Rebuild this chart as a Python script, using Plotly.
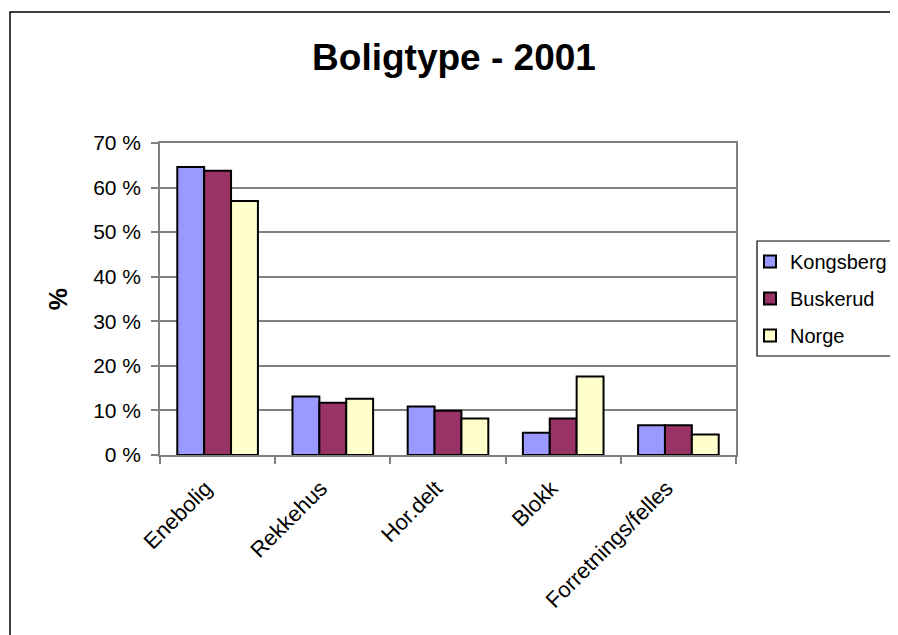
import plotly.graph_objects as go

categories = ["Enebolig", "Rekkehus", "Hor.delt", "Blokk", "Forretnings/felles"]
kongsberg = [64.6, 13.1, 10.9, 5.0, 6.7]
buskerud = [63.8, 11.7, 9.9, 8.2, 6.7]
norge = [57.0, 12.6, 8.2, 17.6, 4.6]
series_names = ["Kongsberg", "Buskerud", "Norge"]
colors = ["#9999FF", "#993366", "#FFFFCC"]
y_ticks = [0, 10, 20, 30, 40, 50, 60, 70]
y_tick_labels = [f"{v} %" for v in y_ticks]

W, H = 898, 635
OFF = 8  # page body margin
L, R, T, B = 160 - OFF, 736 - OFF, 143 - OFF, 455 - OFF  # plot area in figure pixels
FONT = "Liberation Sans, Arial, sans-serif"

fig = go.Figure()
for i, (name, vals) in enumerate(zip(series_names, [kongsberg, buskerud, norge])):
    fig.add_trace(go.Bar(
        x=categories, y=vals, name=name, legendgroup=name,
        marker=dict(color=colors[i], line=dict(color="black", width=2)),
    ))

def px_x(p):
    return (p - OFF - L) / (R - L)

def px_y(p):
    return (B - (p - OFF)) / (B - T)

shapes = [
    # outer chart border
    dict(type="rect", xref="paper", yref="paper",
         x0=px_x(10), x1=px_x(1000), y0=px_y(700), y1=px_y(12),
         line=dict(color="black", width=1.5), fillcolor="rgba(0,0,0,0)", layer="above"),
    # legend border
    dict(type="rect", xref="paper", yref="paper",
         x0=px_x(757), x1=px_x(920), y0=px_y(356), y1=px_y(241),
         line=dict(color="black", width=1.2), fillcolor="rgba(0,0,0,0)", layer="above"),
]

fig.update_layout(
    width=W, height=H,
    margin=dict(l=L, r=W - R, t=T, b=H - B, autoexpand=False),
    paper_bgcolor="white", plot_bgcolor="white",
    font=dict(family=FONT, color="black", size=20),
    title=dict(text="<b>Boligtype - 2001</b>", x=(454 - OFF) / W, xanchor="center",
               y=1 - (57 - OFF) / H, yanchor="middle", yref="container",
               font=dict(family=FONT, size=37, color="black")),
    barmode="group", bargap=0.3, bargroupgap=0,
    showlegend=True,
    legend=dict(x=px_x(750), xanchor="left", y=px_y(242), yanchor="top",
                bgcolor="rgba(0,0,0,0)", borderwidth=0,
                font=dict(family=FONT, size=20, color="black"),
                tracegroupgap=8, traceorder="grouped",
                itemsizing="constant", itemwidth=30),
    shapes=shapes,
)

fig.update_xaxes(
    type="category", tickson="boundaries", ticks="outside", ticklen=7,
    tickcolor="#808080", tickwidth=1.5, tickangle=-45,
    ticklabelstandoff=10, ticklabelshift=-12,
    showline=True, linecolor="#808080", linewidth=1.5, mirror=True,
    showgrid=False, tickfont=dict(family=FONT, size=22, color="black"),
)
fig.update_yaxes(
    range=[0, 70], tickvals=y_ticks, ticktext=y_tick_labels,
    ticks="outside", ticklen=7, tickcolor="#808080", tickwidth=1.5,
    ticklabelstandoff=6,
    showline=True, linecolor="#808080", linewidth=1.5, mirror=True,
    showgrid=True, gridcolor="#808080", gridwidth=1.5, zeroline=False,
    tickfont=dict(family=FONT, size=21, color="black"),
    title=dict(text="<b>%</b>", standoff=18, font=dict(family=FONT, size=25, color="black")),
)

fig.write_html("out.html")
